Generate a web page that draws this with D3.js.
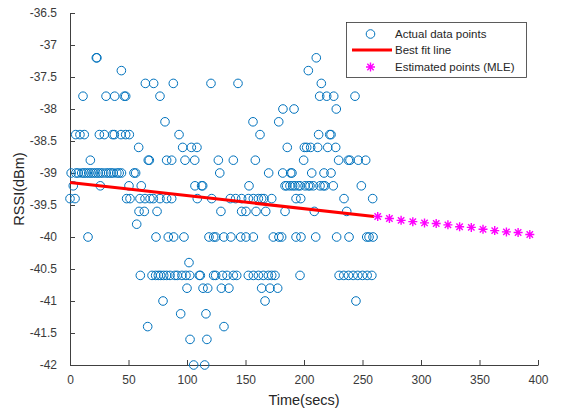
<!DOCTYPE html>
<meta charset="utf-8">
<html>
<body style="margin:0;background:#fff">
<div id="chartContainer"></div>
<script src="https://cdn.jsdelivr.net/npm/d3@7"></script>
<script type="text/javascript">

  // actual data points, grouped by RSSI level: [rssi, [times...]]
  var actualRows = [
    [-37.2, [22.5, 23, 210.5]],
    [-37.4, [43.9, 203.7]],
    [-37.6, [64.4, 71.5, 88.3, 120.5, 143.6, 214.8]],
    [-37.8, [11.1, 30.8, 38.2, 46.4, 47.6, 76.9, 213.4, 219.4, 225.4, 243.6]],
    [-38.0, [182, 191.5, 227.6]],
    [-38.2, [81.2, 156.4, 178.4]],
    [-38.4, [4.9, 8.5, 12.2, 25.1, 29.3, 36.5, 37.9, 43.6, 47.6, 50.7, 93.2, 162.4, 212.5, 222, 223.1]],
    [-38.6, [58.7, 96.3, 103.7, 108.5, 185.7, 200.3, 202.3, 205.7, 211.7, 220.3, 227.1]],
    [-38.8, [17.4, 66.9, 67.8, 82.6, 86.9, 98.3, 106.6, 126.8, 139.6, 158.4, 199.7, 229.6, 237.9, 239.3, 246.4, 252.7]],
    [-39.0, [1, 5, 7, 10, 12, 14, 16, 18, 20, 22, 24, 26, 28, 31, 33, 35, 37, 40, 42, 44, 54.7, 56.1, 128, 169.8, 181.8, 188.6, 189.7, 206.6, 217.1, 223.1]],
    [-39.2, [2.8, 25.9, 50.4, 60.9, 106.8, 112.5, 113.4, 153, 183.8, 185.2, 188, 190.3, 192.3, 195.1, 196.6, 200.9, 203.7, 205.1, 208, 213.7, 216.5, 217.9, 225, 249]],
    [-39.4, [0, 4.3, 48.4, 51.3, 59.8, 64.1, 68.4, 71.2, 76.9, 82.6, 86.9, 108.8, 121.1, 137, 141.6, 146.7, 152.4, 156.7, 161, 163.8, 165.8, 172.4, 193.2, 197.2, 234.2, 258.7]],
    [-39.6, [59, 63.5, 74.4, 129, 146.7, 150.4, 159, 167.3, 183.8, 208.8, 236.5]],
    [-39.8, [57]],
    [-40.0, [15.4, 73.5, 84, 88.6, 97.4, 118.8, 122.8, 124.5, 131.5, 137.5, 145.9, 150.4, 156.7, 173.8, 178.6, 180.9, 193.2, 197.4, 210, 227.9, 238.5, 253.6, 255.6, 259]],
    [-40.4, [101.7]],
    [-40.6, [60.1, 70.1, 73.2, 75.5, 77.5, 80.1, 82.6, 85.5, 89.7, 91.7, 95.7, 99.1, 102.3, 110.5, 111.4, 122.8, 124.5, 130.3, 134.2, 139.6, 142.5, 152.4, 156.7, 161, 165.2, 169.5, 172.4, 175.2, 196.6, 230, 234, 238, 242, 246, 250, 254, 258]],
    [-40.8, [100, 113.7, 117.7, 129.4, 135.8, 163.8, 170.9, 177.5]],
    [-41.0, [79.5, 166.7, 244.4]],
    [-41.2, [94.6, 116.2]],
    [-41.4, [66.4, 131.6]],
    [-41.6, [102.6, 117]],
    [-42.0, [105.7, 115.1]]
  ];

  // best fit line end points
  var fitTime = [0, 260];
  var fitRssi = [-39.15, -39.68];

  // estimated points (MLE)
  var mleTime = [263, 273, 283, 293, 303, 313, 323, 333, 343, 353, 363, 373, 383, 393];
  var mleRssi = [-39.68, -39.71, -39.74, -39.76, -39.78, -39.79, -39.81, -39.84, -39.85, -39.88, -39.90, -39.92, -39.93, -39.96];

  var xTicks = [0, 50, 100, 150, 200, 250, 300, 350, 400];
  var yTicks = [-42, -41.5, -41, -40.5, -40, -39.5, -39, -38.5, -38, -37.5, -37, -36.5];
  var legendLabels = ["Actual data points", "Best fit line", "Estimated points (MLE)"];

  var W = 562, H = 413;
  var plotL = 70, plotR = 538, plotT = 13, plotB = 365;
  var font = "'Liberation Sans', Arial, Helvetica, sans-serif";
  var blue = "#0072BD", axisCol = "#404040";

  var svg = d3.select("#chartContainer").append("svg")
    .attr("width", W).attr("height", H)
    .style("font-family", font);

  var x = d3.scaleLinear().domain([0, 400]).range([plotL, plotR]);
  var y = d3.scaleLinear().domain([-42, -36.5]).range([plotB, plotT]);

  // flatten rows into points
  var points = [];
  actualRows.forEach(function (r) {
    r[1].forEach(function (t) { points.push({ t: t, v: r[0] }); });
  });

  // axes (ticks point inward, like MATLAB)
  var xAxis = svg.append("g")
    .attr("transform", "translate(0," + plotB + ")")
    .call(d3.axisBottom(x).tickValues(xTicks).tickSizeInner(-5).tickSizeOuter(0)
      .tickPadding(10).tickFormat(function (d) { return String(d); }));
  var yAxis = svg.append("g")
    .attr("transform", "translate(" + plotL + ",0)")
    .call(d3.axisLeft(y).tickValues(yTicks).tickSizeInner(-5).tickSizeOuter(0)
      .tickPadding(13).tickFormat(function (d) { return String(d); }));
  [xAxis, yAxis].forEach(function (a) {
    a.selectAll("path, line").attr("stroke", axisCol).attr("stroke-width", 1);
    a.selectAll("text").attr("fill", "#3a3a3a").style("font-size", "12px").style("font-family", font);
  });

  // actual data points
  svg.append("g").selectAll("circle")
    .data(points)
    .enter()
    .append("circle")
    .attr("cx", function (d) { return x(d.t); })
    .attr("cy", function (d) { return y(d.v); })
    .attr("r", 4.3)
    .attr("fill", "none")
    .attr("stroke", blue)
    .attr("stroke-width", 1);

  // best fit line
  var line = d3.line()
    .x(function (d, i) { return x(fitTime[i]); })
    .y(function (d, i) { return y(fitRssi[i]); });
  svg.append("path")
    .attr("d", line(fitTime))
    .attr("fill", "none")
    .attr("stroke", "#ff0000")
    .attr("stroke-width", 3);

  // asterisk marker
  var star = "M-4.5,0L4.5,0M0,-4.5L0,4.5M-3.2,-3.2L3.2,3.2M-3.2,3.2L3.2,-3.2";
  svg.append("g").selectAll("path")
    .data(mleTime)
    .enter()
    .append("path")
    .attr("transform", function (d, i) { return "translate(" + x(d) + "," + y(mleRssi[i]) + ")"; })
    .attr("d", star)
    .attr("fill", "none")
    .attr("stroke", "#ff00ff")
    .attr("stroke-width", 1.4);

  // axis titles
  svg.append("text")
    .attr("x", (plotL + plotR) / 2)
    .attr("y", 405)
    .attr("text-anchor", "middle")
    .style("font-size", "14.5px")
    .attr("fill", "#262626")
    .text("Time(secs)");
  svg.append("text")
    .attr("transform", "translate(24," + ((plotT + plotB) / 2) + ") rotate(-90)")
    .attr("text-anchor", "middle")
    .style("font-size", "14.5px")
    .attr("fill", "#262626")
    .text("RSSI(dBm)");

  // legend
  var lg = svg.append("g");
  lg.append("rect")
    .attr("x", 346.5).attr("y", 22.5).attr("width", 180).attr("height", 55)
    .attr("fill", "#fff").attr("stroke", "#333").attr("stroke-width", 0.8);
  var rowsY = [34, 50, 67];
  lg.append("circle").attr("cx", 370.5).attr("cy", rowsY[0]).attr("r", 4.3)
    .attr("fill", "none").attr("stroke", blue);
  lg.append("line").attr("x1", 352).attr("x2", 392).attr("y1", rowsY[1]).attr("y2", rowsY[1])
    .attr("stroke", "#ff0000").attr("stroke-width", 3);
  lg.append("path").attr("transform", "translate(370.5," + rowsY[2] + ")").attr("d", star)
    .attr("fill", "none").attr("stroke", "#ff00ff").attr("stroke-width", 1.4);
  lg.selectAll("text.lbl")
    .data(legendLabels)
    .enter()
    .append("text")
    .attr("class", "lbl")
    .attr("x", 395)
    .attr("y", function (d, i) { return rowsY[i] + 4; })
    .style("font-size", "11.5px")
    .attr("fill", "#262626")
    .text(function (d) { return d; });
</script>
</body>
</html>
